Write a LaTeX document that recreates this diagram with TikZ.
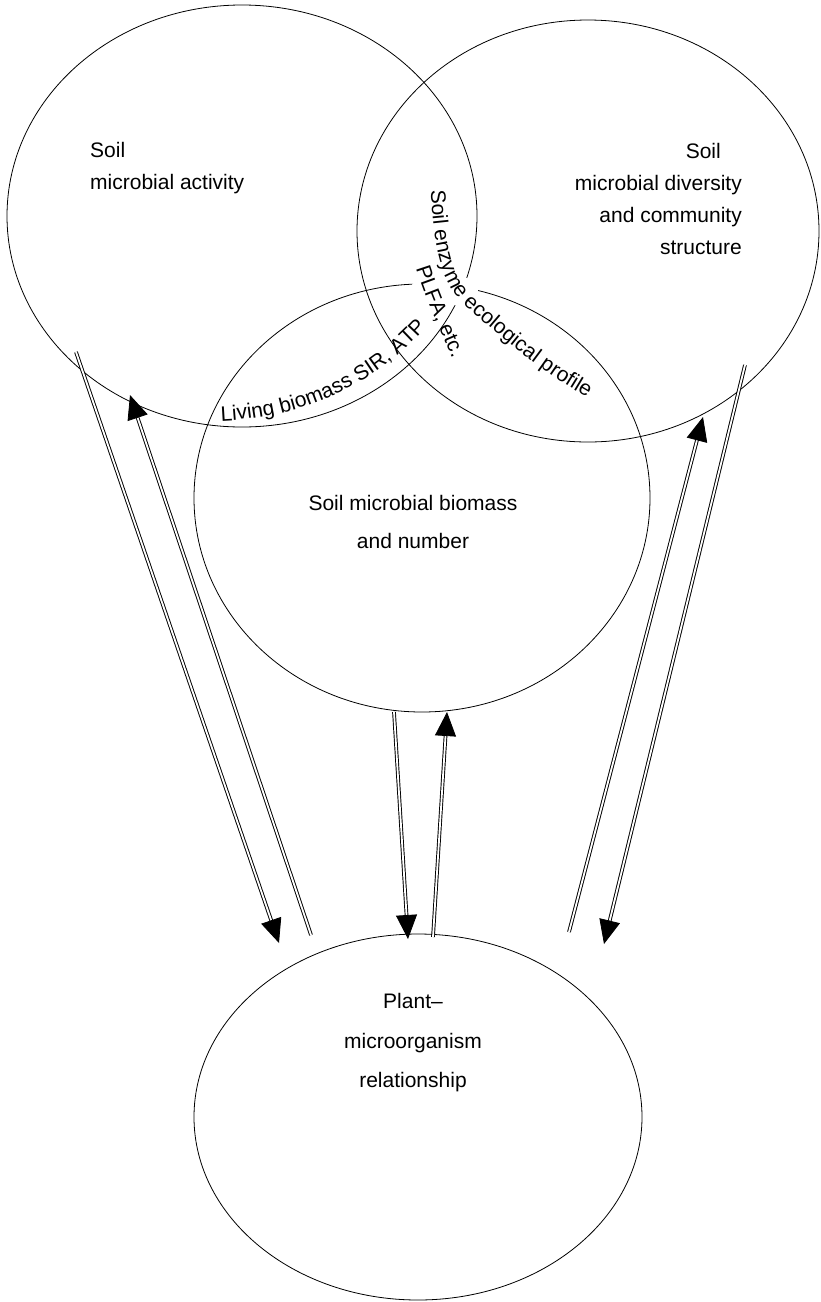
\documentclass[tikz,border=0pt]{standalone}
\usepackage{fontspec}
\setmainfont{Liberation Sans}
\usetikzlibrary{shapes.geometric,arrows.meta,decorations.text,calc}
\begin{document}
\begin{tikzpicture}[x=1pt,y=-1pt,
  oval/.style={ellipse, draw, line width=0.8pt, inner sep=0pt},
  lbl/.style={font=\fontsize{21}{25}\selectfont, inner sep=0pt},
  dbl/.style={double, double distance=1.8pt, line width=0.95pt, shorten >=20pt},
  head/.style={-{Triangle[length=24pt,width=21pt]}, line width=0.8pt},
]
\useasboundingbox (0,0) rectangle (820,1302);
% circles
\node[oval, minimum width=470pt, minimum height=422pt] (act) at (242,216) {};
\node[oval, minimum width=462pt, minimum height=422pt] (div) at (588,231) {};
\node[oval, minimum width=456pt, minimum height=428pt] (bio) at (422,498) {};
\node[oval, minimum width=448pt, minimum height=366pt] (pla) at (418,1117) {};
% knock-out behind the central texts
\fill[white] (444,290) ellipse [x radius=34, y radius=16];
% labels
\node[lbl, anchor=base west] (a1) at (90,157) {Soil};
\node[lbl, anchor=base west] (a2) at (90,189) {microbial activity};
\node[lbl, anchor=base east] (d1) at (721,158) {Soil};
\node[lbl, anchor=base east] (d2) at (742,190) {microbial diversity};
\node[lbl, anchor=base east] (d3) at (742,222) {and community};
\node[lbl, anchor=base east] (d4) at (742,254) {structure};
\node[lbl, anchor=base] (b1) at (413,510) {Soil microbial biomass};
\node[lbl, anchor=base] (b2) at (413,548) {and number};
\node[lbl, anchor=base] (p1) at (413,1008) {Plant--};
\node[lbl, anchor=base] (p2) at (413,1048) {microorganism};
\node[lbl, anchor=base] (p3) at (413,1087) {relationship};
% curved labels
\path[decorate, decoration={text along path, text={|\fontsize{21}{25}\selectfont|Soil enzyme ecological profile}}]
  (431,190) .. controls (434,262) and (446,290) .. (470,310) .. controls (510,345) and (555,383) .. (612,410);
\path[decorate, decoration={text along path, text={|\fontsize{21}{25}\selectfont|PLFA{,} etc.}}]
  (416,268) .. controls (426,300) and (440,330) .. (460,376);
\path[decorate, decoration={text along path, text={|\fontsize{21}{25}\selectfont|Living biomass SIR{,} ATP}}]
  (221,421) .. controls (290,418) and (370,395) .. (436,316);
% arrow end points
\coordinate (ld0) at (76,352);  \coordinate (ld1) at (279,943);
\coordinate (lu0) at (311,935); \coordinate (lu1) at (130,395);
\coordinate (md0) at (394,712); \coordinate (md1) at (408,939);
\coordinate (mu0) at (433,937); \coordinate (mu1) at (447,712);
\coordinate (ru0) at (569,932); \coordinate (ru1) at (703,417);
\coordinate (rd0) at (745,365); \coordinate (rd1) at (604,944);
\foreach \s/\t in {ld0/ld1, lu0/lu1, md0/md1, mu0/mu1, ru0/ru1, rd0/rd1}{
  \draw[dbl] (\s) -- (\t);
  \draw[head] ($(\t)!24pt!(\s)$) -- (\t);
}
\end{tikzpicture}
\end{document}
